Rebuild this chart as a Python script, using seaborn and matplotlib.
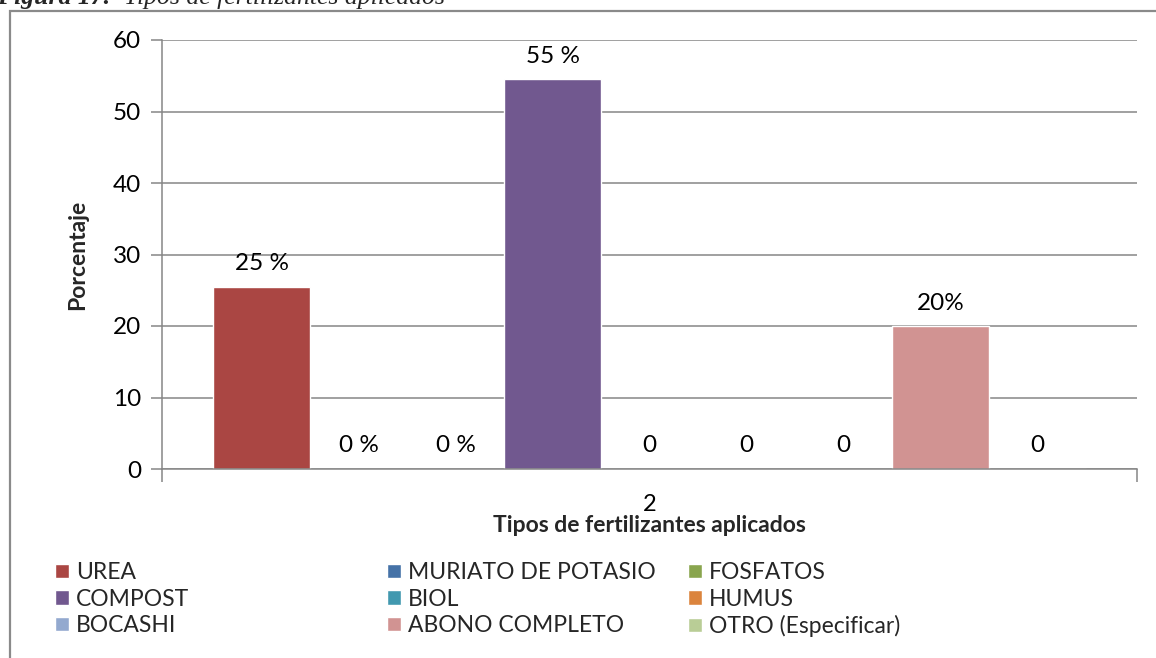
import matplotlib
matplotlib.use("Agg")
import matplotlib.pyplot as plt
from matplotlib.patches import Rectangle
import seaborn as sns
import pandas as pd

# data
tipos = ["UREA", "MURIATO DE POTASIO", "FOSFATOS", "COMPOST", "BIOL", "HUMUS",
         "BOCASHI", "ABONO COMPLETO", "OTRO (Especificar)"]
porcentaje = [25.5, 0, 0, 54.5, 0, 0, 0, 20, 0]
etiquetas = ["25 %", "0 %", "0 %", "55 %", "0", "0", "0", "20%", "0"]
grupo = "2"
colores = ["#AA4643", "#4572A7", "#89A54E", "#71588F", "#4198AF", "#DB843D",
           "#93A9CF", "#D19392", "#B9CD96"]
yticks = [0, 10, 20, 30, 40, 50, 60]

W, H = 1156, 658
gris = "#868686"

sns.set_theme(style="white")
plt.rcParams['font.family'] = ['Lato', 'DejaVu Sans']

df = pd.DataFrame({'grupo': [grupo] * len(tipos), 'tipo': tipos, 'valor': porcentaje})

fig = plt.figure(figsize=(W / 100, H / 100), dpi=100)
ax = fig.add_axes([162 / W, 1 - 469 / H, (1137 - 162) / W, (469 - 40) / H])

sns.barplot(data=df, x='grupo', y='valor', hue='tipo', hue_order=tipos,
            palette=colores, saturation=1, width=0.895, legend=False, ax=ax)

for cont, lab in zip(ax.containers, etiquetas):
    ax.bar_label(cont, labels=[lab], padding=9, fontsize=17.5, color='black')

ax.set_xlim(-0.5, 0.5)
ax.set_ylim(0, 60)
ax.set_yticks(yticks)
ax.yaxis.grid(True, color=gris, linewidth=1.1)
ax.set_axisbelow(True)
for s in ['top', 'right']:
    ax.spines[s].set_visible(False)
for s in ['left', 'bottom']:
    ax.spines[s].set_color(gris)
    ax.spines[s].set_linewidth(1.1)
ax.tick_params(axis='y', left=True, length=8, width=1.1, color=gris,
               labelsize=17.5, pad=7, labelcolor='black')
ax.tick_params(axis='x', bottom=False, labelsize=17, pad=12, labelcolor='black')
ax.set_xticks([-0.5, 0.5], minor=True)
ax.tick_params(axis='x', which='minor', bottom=True, length=9, width=1.1, color=gris)

ax.set_xlabel('Tipos de fertilizantes aplicados', fontsize=16.5, fontweight='bold',
              labelpad=0)
ax.set_ylabel('Porcentaje', fontsize=16.5, fontweight='bold', labelpad=18)

# legend: three columns, row-major like the original
for c in range(3):
    idx = [r * 3 + c for r in range(3)]
    handles = [Rectangle((0, 0), 1, 1, facecolor=colores[i]) for i in idx]
    x0 = [55, 387, 688][c]
    fig.legend(handles, [tipos[i] for i in idx], loc='upper left',
               bbox_to_anchor=(x0 / W, 1 - 562 / H), frameon=False,
               fontsize=16.5, handlelength=0.62, handleheight=0.62,
               handletextpad=0.3, labelspacing=0.24, borderpad=0, borderaxespad=0)

# outer chart border (partly outside the picture)
fig.patches.append(Rectangle((10 / W, -0.2), 1.5, 1 - 11 / H + 0.2,
                             transform=fig.transFigure, fill=False,
                             edgecolor='#8a8a8a', linewidth=1.6))

# figure caption cut off at the top
fig.text(-3 / W, 1 - 4 / H, 'Figura 17.', family='Liberation Serif', fontsize=18.5,
         fontweight='bold', style='italic', va='baseline', ha='left')
fig.text(124 / W, 1 - 4 / H, 'Tipos de fertilizantes aplicados', family='Liberation Serif',
         fontsize=18.5, style='italic', va='baseline', ha='left')

fig.savefig('out.png', dpi=100)
